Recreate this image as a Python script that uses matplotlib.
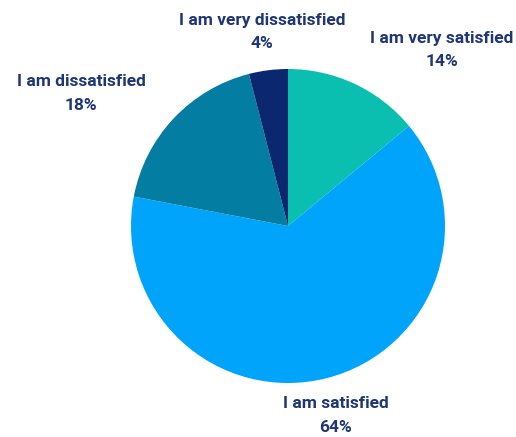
import matplotlib.pyplot as plt

labels = ['I am very satisfied', 'I am satisfied', 'I am dissatisfied', 'I am very dissatisfied']
values = [14, 64, 18, 4]
colors = ['#0BBFB0', '#00A4FB', '#047DA3', '#0A276F']

# label anchor points (x, y in figure pixels from top-left)
label_pos = [(442, 38), (336, 404), (81, 81), (262, 20)]

W, H = 516, 437
fig = plt.figure(figsize=(W / 100, H / 100), dpi=100)
ax = fig.add_axes([0, 0, 1, 1])

ax.pie(values, colors=colors, startangle=90, counterclock=False,
       center=(288, H - 226), radius=157, frame=True,
       wedgeprops=dict(linewidth=0))
ax.set_xlim(0, W)
ax.set_ylim(0, H)
ax.set_aspect('equal')
ax.axis('off')

txt_color = '#1E3675'
for lab, val, (x, y) in zip(labels, values, label_pos):
    ax.text(x, H - y, lab, ha='center', va='center', fontsize=12.5,
            family='Roboto', fontweight='bold', color=txt_color)
    ax.text(x, H - y - 24, f'{val}%', ha='center', va='center', fontsize=12.5,
            family='Roboto', fontweight='bold', color=txt_color)

fig.savefig('out.png', dpi=100)
